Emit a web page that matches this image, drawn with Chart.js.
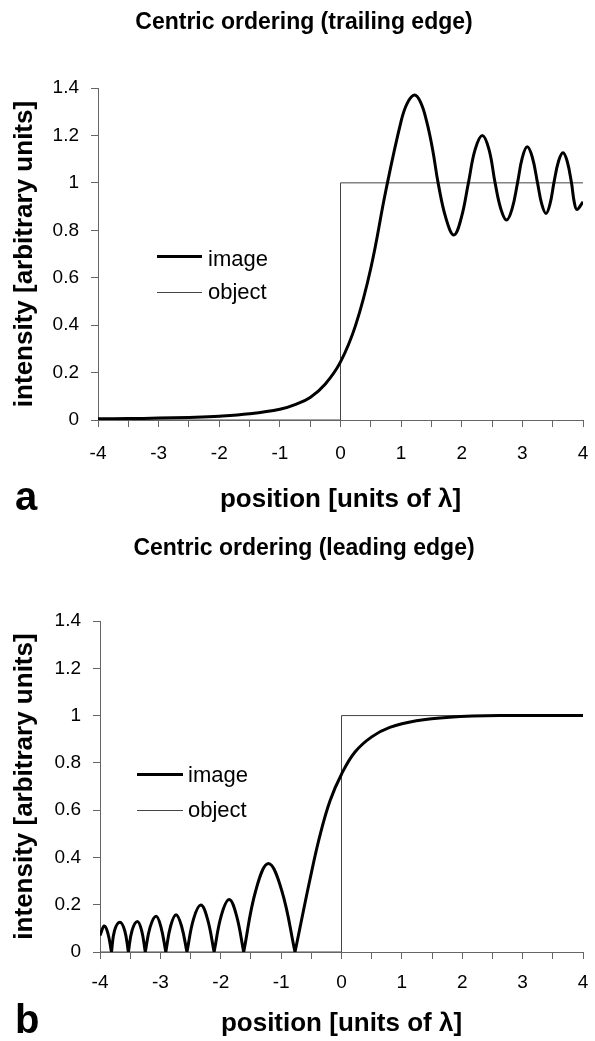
<!DOCTYPE html>
<html>
<head>
<meta charset="utf-8">
<script src="https://cdn.jsdelivr.net/npm/chart.js@4.4.1/dist/chart.umd.min.js"></script>
<style>
  html, body { margin: 0; padding: 0; background: #fff; }
  body { width: 595px; height: 1041px; overflow: hidden; font-family: 'Liberation Sans', Arial, sans-serif; }
  #wrap { position: relative; width: 595px; height: 1041px; }
  .abs { position: absolute; white-space: nowrap; color: #000; }
  .ttl { font-weight: bold; font-size: 23px; line-height: 28px; left: 0; width: 608px; text-align: center; }
  .lg { font-size: 22px; line-height: 26.4px; }
  .pl { font-weight: bold; font-size: 40px; line-height: 48px; }
  canvas { position: absolute; left: 0; }
</style>
</head>
<body>
<div id="wrap">
  <canvas id="c1" width="595" height="520" style="top:0px"></canvas>
  <canvas id="c2" width="595" height="521" style="top:520px"></canvas>
  <div class="abs ttl" id="t1" style="top:7px"></div>
  <div class="abs ttl" id="t2" style="top:533px"></div>
  <div id="leg1"></div>
  <div id="leg2"></div>
  <div class="abs pl" style="left:15px; top:472px">a</div>
  <div class="abs pl" style="left:15px; top:995px">b</div>
</div>
<script>
// ---------- data ----------
const titleTrailing = 'Centric ordering (trailing edge)';
const titleLeading = 'Centric ordering (leading edge)';
const xAxisTitle = 'position [units of \u03bb]';
const yAxisTitle = 'intensity [arbitrary units]';
const seriesNames = ['image', 'object'];

const xTickLabels = ['-4', '-3', '-2', '-1', '0', '1', '2', '3', '4'];
const yTickLabels = ['0', '0.2', '0.4', '0.6', '0.8', '1', '1.2', '1.4'];

// panel a: image (trailing edge)
const xImageTrailing = [-4, -3.5, -3, -2.5, -2, -1.5, -1, -0.75, -0.5, -0.25, 0, 0.25, 0.5, 0.75, 1.0, 1.1, 1.22, 1.32, 1.42, 1.52, 1.61, 1.74, 1.87, 1.99, 2.11, 2.22, 2.34, 2.45, 2.55, 2.645, 2.74, 2.83, 2.92, 3.0, 3.08, 3.165, 3.25, 3.32, 3.39, 3.455, 3.52, 3.595, 3.67, 3.74, 3.81, 3.855, 3.9, 4.0];
const yImageTrailing = [0.005, 0.006, 0.008, 0.011, 0.016, 0.026, 0.045, 0.065, 0.095, 0.152, 0.245, 0.40, 0.64, 0.97, 1.26, 1.335, 1.37, 1.34, 1.26, 1.14, 1.0, 0.85, 0.78, 0.85, 1.0, 1.14, 1.2, 1.14, 1.0, 0.89, 0.843, 0.89, 1.0, 1.107, 1.152, 1.107, 1.0, 0.91, 0.871, 0.91, 1.0, 1.09, 1.127, 1.09, 1.0, 0.92, 0.888, 0.92];

// panel b: image (leading edge); zeros are listed twice so the curve keeps its sharp cusps
const xImageLeading = [-4.0, -3.93, -3.87, -3.81, -3.81, -3.76, -3.67, -3.59, -3.53, -3.53, -3.47, -3.38, -3.31, -3.25, -3.25, -3.17, -3.07, -2.99, -2.91, -2.91, -2.83, -2.74, -2.65, -2.56, -2.56, -2.45, -2.33, -2.22, -2.11, -2.11, -1.99, -1.86, -1.74, -1.62, -1.62, -1.42, -1.21, -0.99, -0.77, -0.77, -0.69, -0.52, -0.36, -0.19, 0, 0.22, 0.5, 0.8, 1.24, 1.79, 2.62, 4.0];
const yImageLeading = [0.07, 0.11, 0.08, 0, 0, 0.09, 0.126, 0.09, 0, 0, 0.09, 0.129, 0.09, 0, 0, 0.105, 0.151, 0.105, 0, 0, 0.11, 0.158, 0.11, 0, 0, 0.14, 0.199, 0.14, 0, 0, 0.155, 0.222, 0.155, 0, 0, 0.26, 0.374, 0.26, 0, 0, 0.10, 0.31, 0.49, 0.64, 0.752, 0.845, 0.91, 0.95, 0.978, 0.993, 1.0, 1.0];

// object (step at x = 0), same in both panels
const xObject = [-4, 0, 0, 4];
const yObject = [0, 0, 1, 1];

// ---------- helpers ----------
const FONT = "'Liberation Sans', Arial, sans-serif";
const zip = (xs, ys) => xs.map((x, i) => ({ x: x, y: ys[i] }));

function buildLegend(el, lineLeft, lineW, textLeft, rows) {
  const styles = [{ h: 3, c: '#000' }, { h: 1, c: '#444' }];
  let html = '';
  rows.forEach((r, i) => {
    html += '<div class="abs" style="left:' + lineLeft + 'px;top:' + r.line + 'px;width:' + lineW + 'px;height:' + styles[i].h + 'px;background:' + styles[i].c + '"></div>';
    html += '<div class="abs lg" style="left:' + textLeft + 'px;top:' + r.text + 'px">' + seriesNames[i] + '</div>';
  });
  el.innerHTML = html;
}

function makeChart(id, imgX, imgY, p) {
  const axisColor = '#666';
  return new Chart(document.getElementById(id), {
    type: 'line',
    data: {
      datasets: [
        { label: seriesNames[0], data: zip(imgX, imgY), borderColor: '#000', borderWidth: 3, pointRadius: 0, tension: 0.4, fill: false, order: 0 },
        { label: seriesNames[1], data: zip(xObject, yObject), borderColor: '#444', borderWidth: 1, pointRadius: 0, tension: 0, fill: false, order: 1 }
      ]
    },
    options: {
      responsive: false,
      devicePixelRatio: 1,
      animation: false,
      layout: { padding: { top: p.top, right: 12, bottom: 0, left: 0 } },
      plugins: { legend: { display: false }, title: { display: false }, tooltip: { enabled: false } },
      scales: {
        x: {
          type: 'linear', min: -4, max: 4,
          ticks: {
            stepSize: 0.5, autoSkip: false, maxRotation: 0, padding: p.xTickPad, color: '#000',
            font: { family: FONT, size: 19 },
            callback: (v) => Math.abs(v - Math.round(v)) < 1e-6 ? xTickLabels[Math.round(v) + 4] : ''
          },
          grid: { display: true, drawOnChartArea: false, drawTicks: true, tickLength: 7, color: axisColor, lineWidth: 1 },
          border: { display: true, color: axisColor, width: 1 },
          title: { display: true, text: xAxisTitle, color: '#000', font: { family: FONT, size: 26, weight: 'bold' }, padding: { top: 0, bottom: p.xTitlePad } },
          afterFit: (s) => { s.height = p.xH; s.paddingLeft = 0; s.paddingRight = 0; }
        },
        y: {
          type: 'linear', min: 0, max: 1.4,
          ticks: {
            stepSize: 0.2, padding: 12, color: '#000',
            font: { family: FONT, size: 19 },
            callback: (v) => yTickLabels[Math.round(v / 0.2)]
          },
          grid: { display: true, drawOnChartArea: false, drawTicks: true, tickLength: 7, color: axisColor, lineWidth: 1 },
          border: { display: true, color: axisColor, width: 1 },
          title: { display: true, text: yAxisTitle, color: '#000', font: { family: FONT, size: 26, weight: 'bold' }, padding: { top: p.yTitlePad, bottom: 0 } },
          afterFit: (s) => { s.width = p.yW; }
        }
      }
    }
  });
}

document.getElementById('t1').textContent = titleTrailing;
document.getElementById('t2').textContent = titleLeading;
buildLegend(document.getElementById('leg1'), 157, 45, 208, [{ line: 255, text: 246 }, { line: 292, text: 279 }]);
buildLegend(document.getElementById('leg2'), 137, 46, 188, [{ line: 773, text: 762 }, { line: 810, text: 797 }]);

makeChart('c1', xImageTrailing, yImageTrailing, { top: 88, xH: 100, yW: 98, xTickPad: 15, xTitlePad: 5, yTitlePad: 9 });
makeChart('c2', xImageLeading, yImageLeading, { top: 101, xH: 89, yW: 100, xTickPad: 12, xTitlePad: 2, yTitlePad: 9 });
</script>
</body>
</html>
